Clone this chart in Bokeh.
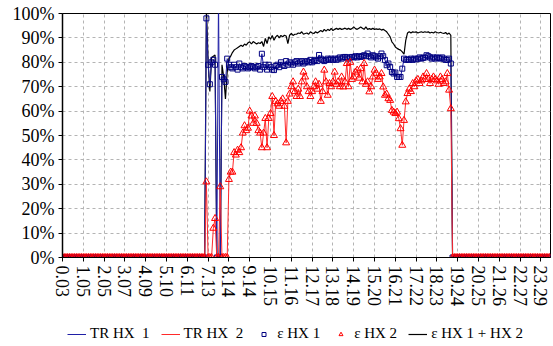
from bokeh.plotting import figure
from bokeh.layouts import column
from bokeh.models import (Range1d, FixedTicker, PrintfTickFormatter, Legend,
                          LegendItem, ColumnDataSource)
from bokeh.embed import file_html
from bokeh.resources import INLINE

# ---------------- data ----------------
time_labels = ["0.03", "1.05", "2.05", "3.07", "4.09", "5.10", "6.11", "7.13",
               "8.14", "9.14", "10.15", "11.16", "12.17", "13.18", "14.19",
               "15.20", "16.21", "17.22", "18.23", "19.24", "20.25", "21.26",
               "22.27", "23.29"]
LABEL_EVERY = 12          # one time label every 12 samples
TOTAL_POINTS = 282        # number of samples in the day
ACTIVE_START = 82         # first sample of the operating period (before: 0 %)

# effectiveness of HX 1 [%] from sample 82 on
eff_hx1_active = [
    0, 98, 79, 71, 80, 81, 79, 0, 108, 0,
    74, 73, 72, 81.5, 79, 78, 77.5, 79, 78, 77,
    79.5, 78, 77.5, 78.5, 78, 77.5, 78, 78.5, 78, 77.5,
    78, 78.5, 77, 83.5, 78, 79, 77, 79, 78, 77,
    76.8, 78.5, 79, 78, 80, 79, 78.5, 80.5, 79, 80,
    79.5, 79, 80, 80.5, 79.5, 80, 80.5, 79.5, 80, 80.5,
    80, 81, 80, 80.5, 81, 80.5, 83, 81.5, 81, 80.5,
    81, 81.5, 81, 81.5, 81, 81.5, 81, 81.5, 82, 81.5,
    82, 82.2, 82, 81.5, 82, 82.2, 82, 82.5, 82, 82.5,
    82.2, 82.5, 82.9, 82.5, 83.6, 82.5, 82, 82.9, 82.5, 82,
    81.5, 82.5, 83.6, 82.5, 81, 78.8, 79.5, 78.1, 76, 75.4,
    75.8, 74, 74, 74, 77.4, 81.5, 81, 81.2, 81, 81.5,
    81, 81.5, 81.2, 81.5, 82, 81.5, 81.8, 82, 82.9, 82.5,
    82, 81.5, 82, 81.5, 82, 81.8, 81.5, 82, 81.5, 81,
    81, 81.5, 79.5, 0,
]

# effectiveness of HX 2 [%] from sample 82 on
eff_hx2_active = [
    0, 31, 0, 0, 0, 12, 16, 0, 0, 29,
    0, 0, 0, 0, 32, 35, 35, 43, 42, 44,
    43, 45, 51, 54, 52, 53, 60, 58, 55, 58,
    55, 52, 51, 45, 51, 57, 45, 57, 59, 66,
    50, 64, 63, 62, 64, 65, 62, 47, 64, 67,
    70, 72, 68, 66, 69, 66, 72, 76, 74, 70,
    68, 66, 68, 70, 72, 69, 71, 64, 68, 76.8,
    72, 66.5, 71.3, 70, 72, 76, 71, 72, 70, 74,
    69.9, 72, 79.5, 70, 80, 73, 74, 76, 76.8, 73.5,
    77.4, 72, 79.5, 71, 72, 67.9, 70, 74, 76.8, 75.5,
    73, 74, 75.4, 69.9, 66.5, 67, 65.1, 64.4, 60.3, 59.6,
    59, 59.6, 56.9, 52.8, 46, 56.2, 63.8, 67.2, 69, 68,
    71.3, 70, 72.4, 73, 71.3, 72.4, 74, 73, 75.4, 73,
    71.3, 73, 74, 73, 72.4, 71, 74, 73, 71.3, 72,
    75.4, 68.6, 61, 0,
]

# combined effectiveness HX 1 + HX 2 [%] from sample 82 on
eff_total_active = [
    0, 103, 80, 68, 82, 82.5, 83, 0, 0, 0,
    79, 74, 65, 76, 81.5, 82.5, 84, 85, 85.5, 86,
    86.5, 87, 86.5, 87.5, 87, 88, 88.4, 87.5, 88.5, 88,
    87.5, 88, 87.7, 88.5, 86.5, 89.8, 87.7, 90.4, 89.5, 91,
    89, 90.4, 91.1, 90, 91, 90.5, 91.1, 90.8, 87.7, 91.1,
    91.8, 91, 91.5, 91.5, 92, 91.8, 92.5, 91.5, 91.8, 92,
    91.5, 92.5, 92, 91.8, 92.5, 92, 92.5, 93, 92.5, 93.5,
    92.8, 93.5, 93, 93.9, 93, 93.5, 93.9, 93.5, 93.9, 93.5,
    93.7, 94, 93.5, 93.9, 93.5, 93.8, 94.5, 93.8, 93.5, 94,
    94.5, 94, 93.5, 94.5, 93.5, 93.8, 93.5, 93.9, 93.5, 93.7,
    93.5, 93.7, 93.2, 93.5, 93, 92.5, 91.5, 90.4, 88.4, 87.5,
    86.3, 85.7, 85.3, 85, 84.3, 83.3, 89, 92, 92.5, 92,
    92.5, 92.3, 92.5, 92, 92.3, 92.5, 92.2, 92.5, 92.3, 92.5,
    92, 92.3, 92, 92.5, 92.2, 92, 92.3, 92, 91.8, 92.2,
    91.5, 92, 91, 0,
]

y_ticks = [0, 10, 20, 30, 40, 50, 60, 70, 80, 90, 100]
legend_labels = ["TR HX  1", "TR HX  2", "ε HX 1", "ε HX 2", "ε HX 1 + HX 2"]


def full_day(active):
    tail = TOTAL_POINTS - ACTIVE_START - len(active)
    return [0.0] * ACTIVE_START + [float(v) for v in active] + [0.0] * tail


src = ColumnDataSource(dict(
    x=list(range(TOTAL_POINTS)),
    e1=full_day(eff_hx1_active),
    e2=full_day(eff_hx2_active),
    et=full_day(eff_total_active),
))

FONT = "Liberation Serif"
C_TOT, C_TR1, C_E1, C_TR2, C_E2 = "black", "#1f1fa6", "#000080", "#ff2a2a", "#ff0000"

p = figure(width=553, height=310, output_backend="svg", toolbar_location=None,
           x_range=Range1d(0, TOTAL_POINTS - 0.5), y_range=Range1d(0, 100),
           min_border_left=62, min_border_right=3, min_border_top=13,
           min_border_bottom=53)
p.background_fill_color = "white"
p.border_fill_color = "white"
p.outline_line_color = "black"
p.outline_line_width = 1

# axes
tick_pos = [i * LABEL_EVERY for i in range(len(time_labels))]
p.xaxis.ticker = FixedTicker(ticks=tick_pos)
p.xaxis.major_label_overrides = {t: lbl for t, lbl in zip(tick_pos, time_labels)}
p.xaxis.major_label_orientation = "vertical"
p.yaxis.ticker = FixedTicker(ticks=y_ticks)
p.yaxis.formatter = PrintfTickFormatter(format="%d%%")
for ax in (p.xaxis, p.yaxis):
    ax.axis_line_color = "black"
    ax.major_tick_line_color = "black"
    ax.major_tick_in = 0
    ax.major_tick_out = 4
    ax.minor_tick_line_color = None
    ax.major_label_text_font = FONT
    ax.major_label_text_color = "black"
    ax.major_label_standoff = 4
p.yaxis.axis_line_width = 1.5
p.xaxis.major_label_text_font_size = "18px"
p.yaxis.major_label_text_font_size = "18px"

for g in (p.xgrid, p.ygrid):
    g.grid_line_color = "#b4b4b4"
    g.grid_line_dash = "3 3"
    g.grid_line_width = 1
p.xgrid.ticker = FixedTicker(ticks=tick_pos)
p.ygrid.ticker = FixedTicker(ticks=y_ticks)

# series
p.line("x", "et", source=src, line_color=C_TOT, line_width=1.2)
p.line("x", "e1", source=src, line_color=C_TR1, line_width=1)
p.scatter("x", "e1", source=src, marker="square", size=5,
          line_color=C_E1, fill_color=None, line_width=1)
p.line("x", "e2", source=src, line_color=C_TR2, line_width=1)
p.scatter("x", "e2", source=src, marker="triangle", size=7,
          line_color=C_E2, fill_color=None, line_width=1)

# ---------------- legend strip (frame aligned with the chart's frame) ----------------
lg = figure(width=553, height=36, output_backend="svg", toolbar_location=None,
            x_range=Range1d(0, 1), y_range=Range1d(0, 1),
            min_border_left=0, min_border_right=0, min_border_top=0,
            min_border_bottom=0)
lg.axis.visible = False
lg.grid.visible = False
lg.outline_line_color = None
lg.background_fill_color = "white"
lg.border_fill_color = "white"
# stand-in glyphs placed outside the visible range, only used for the legend
off = dict(x=[-5], y=[-5])
g_tr1 = lg.line(line_color=C_TR1, line_width=1, **off)
g_tr2 = lg.line(line_color=C_TR2, line_width=1, **off)
g_e1 = lg.scatter(marker="square", size=5, line_color=C_E1,
                  fill_color=None, line_width=1, **off)
g_e2 = lg.scatter(marker="triangle", size=7, line_color=C_E2,
                  fill_color=None, line_width=1, **off)
g_tot = lg.line(line_color=C_TOT, line_width=1.2, **off)

legend = Legend(items=[LegendItem(label=lab, renderers=[r]) for lab, r in
                       zip(legend_labels, [g_tr1, g_tr2, g_e1, g_e2, g_tot])],
                orientation="horizontal", location=(5, 4))
legend.label_text_font = FONT
legend.label_text_font_size = "15px"
legend.label_text_color = "black"
legend.glyph_width = 19
legend.glyph_height = 10
legend.label_height = 16
legend.label_standoff = 4
legend.spacing = 11
legend.padding = 0
legend.margin = 0
legend.border_line_color = None
legend.background_fill_alpha = 0
lg.add_layout(legend)

layout = column(p, lg, spacing=0)
open("out.html", "w").write(file_html(layout, INLINE))
